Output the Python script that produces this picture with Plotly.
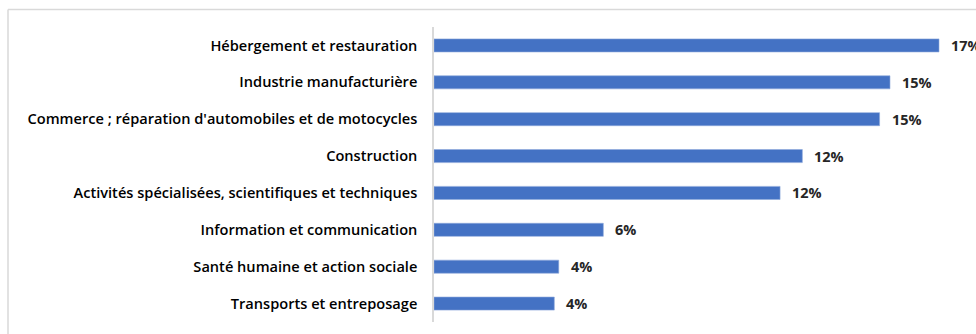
import plotly.graph_objects as go

categories = [
    "Hébergement et restauration",
    "Industrie manufacturière",
    "Commerce ; réparation d'automobiles et de motocycles",
    "Construction",
    "Activités spécialisées, scientifiques et techniques",
    "Information et communication",
    "Santé humaine et action sociale",
    "Transports et entreposage",
]
values = [17.0, 15.35, 15.0, 12.4, 11.65, 5.7, 4.2, 4.05]
value_labels = ["17%", "15%", "15%", "12%", "12%", "6%", "4%", "4%"]

W, H = 976, 334
L, R, T, B = 434, 0, 27, 12
plot_w = W - L - R
x_max = 17.0 * plot_w / 505.0

fig = go.Figure()
fig.add_trace(go.Bar(
    x=values,
    y=categories,
    orientation="h",
    marker=dict(color="#4472C4", line=dict(color="#8FAADC", width=0.6)),
    hoverinfo="skip",
))

for v, lab, cat in zip(values, value_labels, categories):
    fig.add_annotation(
        x=v, y=cat, xref="x", yref="y", text=lab, showarrow=False,
        xanchor="left", yanchor="middle", xshift=10, yshift=0,
        font=dict(family="Open Sans", size=14.5, color="#262626", weight=700),
    )

# outer frame (light gray)
plot_h = H - T - B
fx = (8 - L) / plot_w
fy = (H - B - 9.5) / plot_h
fig.add_shape(type="line", xref="paper", yref="paper", x0=fx, x1=fx, y0=-1, y1=fy,
              line=dict(color="#D9D9D9", width=1.5))
fig.add_shape(type="line", xref="paper", yref="paper", x0=fx, x1=1.2, y0=fy, y1=fy,
              line=dict(color="#D9D9D9", width=1.5))

fig.update_layout(
    width=W, height=H, autosize=False,
    margin=dict(l=L, r=R, t=T, b=B, pad=0),
    paper_bgcolor="white", plot_bgcolor="white",
    bargap=0.645,
    showlegend=False,
    xaxis=dict(range=[0, x_max], visible=False, fixedrange=True),
    yaxis=dict(
        autorange="reversed",
        showline=True, linecolor="#D9D9D9", linewidth=1.5,
        showgrid=False, zeroline=False, ticks="",
        ticklabelstandoff=12,
        tickfont=dict(family="Open Sans", size=14.6, color="#000000", weight=600),
    ),
)

fig.write_html("out.html")
